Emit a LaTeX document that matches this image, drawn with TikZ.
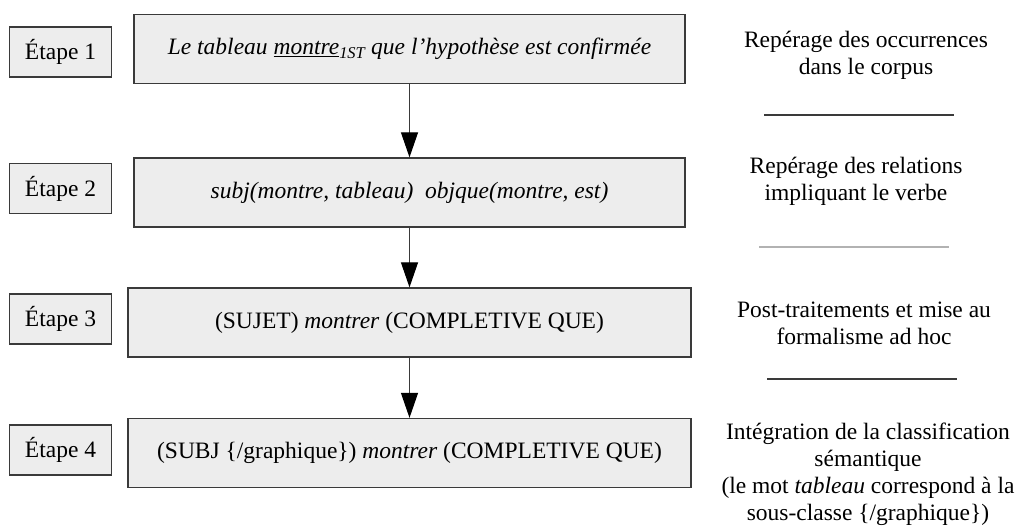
\documentclass[tikz,border=0pt]{standalone}
\usepackage{fontspec}
\setmainfont{Liberation Serif}
\usetikzlibrary{calc,positioning}
\usetikzlibrary{arrows.meta}

\definecolor{boxfill}{HTML}{EDEDED}
\definecolor{boxline}{HTML}{3A3A3A}

\tikzset{
  etape/.style={rectangle, draw=boxline, fill=boxfill, line width=1.3pt,
                minimum width=102pt, minimum height=50pt, inner sep=0pt},
  phrase/.style={rectangle, draw=boxline, fill=boxfill, line width=1.3pt,
                 minimum height=69pt, inner sep=0pt},
  desc/.style={align=center, inner sep=0pt},
  fleche/.style={-{Triangle[length=25pt,width=17pt,color=black]},
                 line width=1.1pt, draw=boxline},
  trait/.style={line width=1.3pt, draw=boxline}
}

\begin{document}
\begin{tikzpicture}[x=1pt,y=-1pt,text=black,
    node font=\fontsize{23.5}{27}\selectfont]

  \useasboundingbox (0,0) rectangle (1023,528);

  % etapes
  \node (E1) at (60.5,52)  [etape] {Étape 1};
  \node (E2) at (60.5,188.5) [etape] {Étape 2};
  \node (E3) at (60.5,319) [etape] {Étape 3};
  \node (E4) at (60.5,450) [etape] {Étape 4};

  % phrases
  \node (P1) at (409.5,49)    [phrase, minimum width=551pt]
        {\itshape Le tableau \underline{montre}\textsubscript{1ST} que l’hypothèse est confirmée};
  \node (P2) at (409.5,192.5) [phrase, minimum width=551pt]
        {\itshape subj(montre, tableau) \ objque(montre, est)};
  \node (P3) at (409.5,322.5) [phrase, minimum width=563pt]
        {(SUJET) \textit{montrer} (COMPLETIVE QUE)};
  \node (P4) at (409.5,453)   [phrase, minimum width=563pt]
        {(SUBJ \{/graphique\}) \textit{montrer} (COMPLETIVE QUE)};

  \draw[fleche] (P1) -- (P2);
  \draw[fleche] (P2) -- (P3);
  \draw[fleche] (P3) -- (P4);

  % descriptions
  \node (D1) at (866,55)  [desc] {Repérage des occurrences\\dans le corpus};
  \node (D2) at (856,181) [desc] {Repérage des relations\\impliquant le verbe};
  \node (D3) at (864,323) [desc] {Post-traitements et mise au\\formalisme ad hoc};
  \node (D4) at (868,474) [desc] {Intégration de la classification\\sémantique\\
        (le mot \textit{tableau} correspond à la\\sous-classe \{/graphique\})};

  \coordinate (S1a) at (764,115); \coordinate (S1b) at (954,115);
  \coordinate (S2a) at (759,247); \coordinate (S2b) at (949,247);
  \coordinate (S3a) at (767,379); \coordinate (S3b) at (957,379);
  \draw[trait] (S1a) -- (S1b);
  \draw[trait, draw=black!30] (S2a) -- (S2b);
  \draw[trait] (S3a) -- (S3b);

\end{tikzpicture}
\end{document}
